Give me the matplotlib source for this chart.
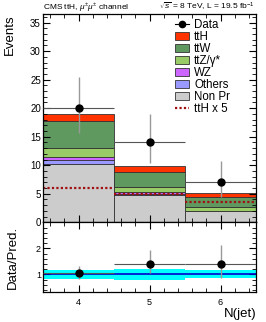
"""
N(jet) distribution for the ttH same-sign dimuon channel, with data/prediction ratio.
"""

import numpy as np
import matplotlib
matplotlib.use("Agg")
import matplotlib.pyplot as plt
from matplotlib.lines import Line2D
from matplotlib.patches import Patch
from matplotlib.ticker import MultipleLocator

plt.rcParams["font.family"] = ["Liberation Sans", "DejaVu Sans"]
plt.rcParams["mathtext.fontset"] = "custom"
plt.rcParams["mathtext.rm"] = "Liberation Sans"
plt.rcParams["mathtext.it"] = "Liberation Sans:italic"

# binning
njet = np.array([4, 5, 6])
xtick_labels = ["4", "5", "6"]

# stacked backgrounds/signal, bottom to top
non_pr = np.array([10.2, 4.75, 1.9])
others = np.array([0.7, 0.25, 0.05])
wz = np.array([0.6, 0.3, 0.05])
ttz = np.array([1.5, 0.8, 0.7])
ttw = np.array([4.8, 2.8, 1.65])
tth = np.array([1.2, 1.0, 0.72])

# observed
data = np.array([20, 14, 7])
data_err_lo = np.array([4.3, 3.6, 2.6])
data_err_hi = np.array([5.4, 5.0, 3.8])

# relative uncertainty on prediction (ratio band)
pred_unc = np.array([0.17, 0.2, 0.15])

stack = [
    (non_pr, "Non Pr", "#cccccc"),
    (others, "Others", "#9999ff"),
    (wz, "WZ", "#cc66ff"),
    (ttz, "ttZ/γ*", "#99cc66"),
    (ttw, "ttW", "#5f995f"),
    (tth, "ttH", "#ff3300"),
]

fig = plt.figure(figsize=(2.66, 3.22), dpi=100)
ax = fig.add_axes([0.1617, 0.3096, 0.8008, 0.6469])
rax = fig.add_axes([0.1617, 0.0932, 0.8008, 0.2164], sharex=ax)

# stacked histogram
bottom = np.zeros(len(njet))
for vals, label, color in stack:
    ax.bar(njet, vals, width=1.0, bottom=bottom, color=color,
           edgecolor="#333333", linewidth=0.6, zorder=1)
    bottom = bottom + vals
total = bottom

# ttH x 5
ax.hlines(tth * 5, njet - 0.5, njet + 0.5, colors="#a01010",
          linestyles=(0, (1, 1)), linewidth=1.6, zorder=2)

# data points
ax.vlines(njet, data - data_err_lo, data + data_err_hi, colors="#999999", linewidth=1.0, zorder=3)
ax.hlines(data, njet - 0.5, njet + 0.5, colors="#555555", linewidth=0.8, zorder=3)
ax.plot(njet, data, "o", color="black", markersize=5, zorder=4)

ax.set_xlim(3.5, 6.5)
ax.set_ylim(0, 36.5)
ax.set_ylabel("Events", fontsize=9.5, loc="top", labelpad=10)
ax.yaxis.set_major_locator(MultipleLocator(5))
ax.yaxis.set_minor_locator(MultipleLocator(1))
ax.xaxis.set_minor_locator(MultipleLocator(0.2))
ax.tick_params(labelbottom=False)

# legend
handles = [Line2D([0], [0], color="black", marker="o", markersize=4.5, linewidth=0.8)]
labels = ["Data"]
for vals, label, color in reversed(stack):
    handles.append(Patch(facecolor=color, edgecolor="#333333", linewidth=0.6))
    labels.append(label)
handles.append(Line2D([0], [0], color="#a01010", linestyle=(0, (1, 1)), linewidth=1.6))
labels.append("ttH x 5")
ax.legend(handles, labels, loc="upper left", bbox_to_anchor=(0.62, 0.975), frameon=False,
          fontsize=8.3, labelspacing=0.0, handlelength=1.2, handleheight=0.7,
          handletextpad=0.45, borderaxespad=0, borderpad=0)

# ratio panel
ratio = data / total
rax.bar(njet, 2 * pred_unc, width=1.0, bottom=1 - pred_unc, color="#00ffff", linewidth=0, zorder=1)
rax.axhline(1.0, color="#0000cc", linewidth=1.2, zorder=2)
rax.vlines(njet, ratio - data_err_lo / total, ratio + data_err_hi / total,
           colors="#999999", linewidth=1.0, zorder=3)
rax.hlines(ratio, njet - 0.5, njet + 0.5, colors="#555555", linewidth=0.8, zorder=3)
rax.plot(njet, ratio, "o", color="black", markersize=5, zorder=4)

rax.set_ylim(0.32, 3.0)
rax.set_xticks(njet)
rax.set_xticklabels(xtick_labels)
rax.yaxis.set_minor_locator(MultipleLocator(0.2))
rax.set_yticks([1, 2])
rax.set_ylabel("Data/Pred.", fontsize=9.5, labelpad=12)
rax.set_xlabel("N(jet)", fontsize=9.5, loc="right", labelpad=1)

for a, fs in ((ax, 7), (rax, 6.5)):
    a.tick_params(which="both", direction="in", top=True, right=True, labelsize=fs, pad=1.5)
    a.tick_params(which="major", length=5, width=0.8)
    a.tick_params(which="minor", length=3, width=0.6)
    for sp in a.spines.values():
        sp.set_linewidth(0.9)
rax.tick_params(axis="x", pad=4)

fig.text(43 / 266, 1 - 10 / 322, "CMS ttH, $\\mu^{\\pm}\\mu^{\\pm}$ channel", fontsize=6,
         ha="left", va="baseline")
fig.text(255 / 266, 1 - 10 / 322, "$\\sqrt{s}$ = 8 TeV, L = 19.5 fb$^{-1}$", fontsize=6,
         ha="right", va="baseline")

fig.savefig("out.png", dpi=100)
